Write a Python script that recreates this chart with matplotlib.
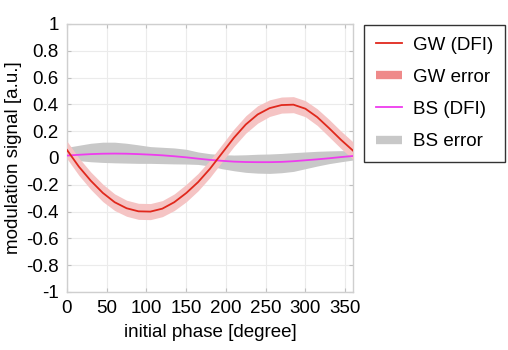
import matplotlib
matplotlib.use("Agg")
import matplotlib.pyplot as plt
from matplotlib.lines import Line2D
import numpy as np

plt.rcParams['font.family'] = ['Liberation Sans', 'DejaVu Sans']
plt.rcParams['axes.unicode_minus'] = False

phase = [0, 15, 30, 45, 60, 75, 90, 105, 120, 135, 150, 165, 180,
         195, 210, 225, 240, 255, 270, 285, 300, 315, 330, 345, 360]
gw = [0.06, -0.065, -0.17, -0.26, -0.33, -0.375, -0.398, -0.40, -0.378, -0.33, -0.262, -0.18, -0.08,
      0.035, 0.15, 0.25, 0.325, 0.372, 0.395, 0.398, 0.368, 0.305, 0.222, 0.135, 0.055]
gw_err = [0.065, 0.065, 0.065, 0.065, 0.062, 0.06, 0.06, 0.06, 0.06, 0.062, 0.065, 0.065, 0.065,
          0.065, 0.065, 0.065, 0.065, 0.062, 0.06, 0.06, 0.06, 0.062, 0.065, 0.065, 0.065]
bs = [0.018, 0.024, 0.029, 0.032, 0.033, 0.032, 0.029, 0.025, 0.02, 0.013, 0.005, -0.005, -0.014,
      -0.021, -0.027, -0.03, -0.031, -0.031, -0.029, -0.024, -0.017, -0.01, -0.002, 0.007, 0.015]
bs_upper = [0.08, 0.095, 0.11, 0.118, 0.118, 0.11, 0.098, 0.085, 0.08, 0.075, 0.065, 0.045, 0.032,
            0.025, 0.022, 0.024, 0.028, 0.03, 0.034, 0.04, 0.045, 0.05, 0.053, 0.055, 0.055]
bs_lower = [-0.01, -0.02, -0.028, -0.033, -0.036, -0.038, -0.04, -0.04, -0.042, -0.044, -0.045, -0.048, -0.06,
            -0.08, -0.095, -0.107, -0.113, -0.115, -0.11, -0.1, -0.08, -0.06, -0.042, -0.028, -0.015]

xticks = [0, 50, 100, 150, 200, 250, 300, 350]
yticks = [-1, -0.8, -0.6, -0.4, -0.2, 0, 0.2, 0.4, 0.6, 0.8, 1]
ytick_labels = ['-1', '-0.8', '-0.6', '-0.4', '-0.2', '0', '0.2', '0.4', '0.6', '0.8', '1']

labels = ['GW (DFI)', 'GW error', 'BS (DFI)', 'BS error']

RED = '#e0281c'
RED_BAND = '#f5c4c4'
RED_PATCH = '#ef8a8a'
MAG = '#ee3cee'
GRAY = '#c8c8c8'

fig = plt.figure(figsize=(5.08, 3.5), dpi=100)
ax = fig.add_axes([67 / 508, 1 - 292 / 350, (353 - 67) / 508, (292 - 24) / 350])

p = np.array(phase)
ax.fill_between(p, np.array(bs_lower), np.array(bs_upper), color=GRAY, lw=0, zorder=2)
ax.fill_between(p, np.array(gw) - np.array(gw_err), np.array(gw) + np.array(gw_err),
                color=RED_BAND, lw=0, zorder=3)
ax.plot(p, bs, color=MAG, lw=1.3, zorder=4)
ax.plot(p, gw, color=RED, lw=1.3, zorder=5)

ax.set_xlim(0, 360)
ax.set_ylim(-1, 1)
ax.set_xticks(xticks)
ax.set_yticks(yticks)
ax.set_yticklabels(ytick_labels)
ax.grid(True, color='#ebebeb', lw=0.8, zorder=0)
ax.set_axisbelow(True)
for s in ax.spines.values():
    s.set_color('#cfcfcf')
    s.set_linewidth(1.0)
ax.tick_params(direction='in', length=3, color='#bfbfbf', top=True, right=True,
               labelsize=13.5, pad=6, labelcolor='black')

ax.set_xlabel('initial phase [degree]', fontsize=13.5, labelpad=5)
ax.set_ylabel('modulation signal [a.u.]', fontsize=13.5, labelpad=3)

handles = [
    Line2D([], [], color=RED, lw=1.3),
    Line2D([], [], color=RED_PATCH, lw=6, solid_capstyle='butt'),
    Line2D([], [], color=MAG, lw=1.3),
    Line2D([], [], color=GRAY, lw=6, solid_capstyle='butt'),
]
leg = fig.legend(handles, labels, loc='upper left', bbox_to_anchor=(364 / 508, 1 - 25 / 350),
                 fontsize=13.5, frameon=True, fancybox=False, edgecolor='black',
                 handlelength=1.4, handletextpad=0.6, labelspacing=0.8, borderpad=0.62,
                 borderaxespad=0)
leg.get_frame().set_linewidth(1.0)

fig.savefig('out.png', dpi=100, facecolor='white')
